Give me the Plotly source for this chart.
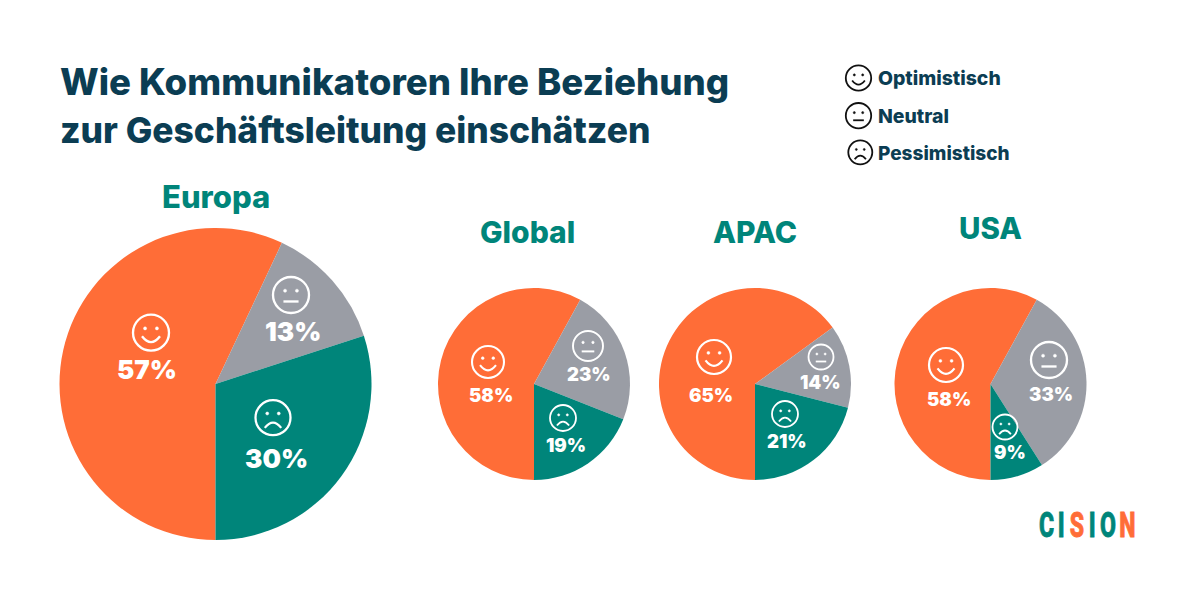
import plotly.graph_objects as go

W, H = 1200, 600
NAVY = "#0b3d53"
TEAL = "#00857a"
ORANGE = "#ff6d37"
GRAY = "#9a9da5"
FONT = "Inter"

moods = ["Optimistisch", "Neutral", "Pessimistisch"]
regions = ["Europa", "Global", "APAC", "USA"]
europa = [57, 13, 30]
global_ = [58, 23, 19]
apac = [65, 14, 21]
usa = [58, 33, 9]
series = [europa, global_, apac, usa]
title_lines = ["Wie Kommunikatoren Ihre Beziehung", "zur Geschäftsleitung einschätzen"]

# layout (pixels)
pies = [(215.5, 384, 156), (534, 384, 96), (755, 384, 96), (990.5, 384, 96)]
heads = [(215.5, 196, 31), (527.5, 232, 30), (755, 232, 30), (990, 228, 29.5)]
label_pos = [
    [(147, 369, 26), (293, 331, 26), (276, 458, 26)],
    [(491, 395, 18.5), (588.5, 374, 18.5), (566, 445, 18.5)],
    [(711, 395, 18.5), (820, 382, 18.5), (787, 441, 18.5)],
    [(949, 399, 18.5), (1051, 394, 18.5), (1010, 452, 18.5)],
]
icon_pos = [
    [(151, 332.7, 18), (291, 295, 18), (273, 417.7, 17.5)],
    [(488, 362, 16), (588, 346, 15), (563, 418, 13)],
    [(714, 357, 17), (821, 357, 12.5), (785, 414, 13)],
    [(946, 365, 17), (1049, 360, 18), (1005, 427, 12.5)],
]
legend_icons = [(858.5, 78, 12.7), (858.5, 115.7, 12.7), (860.3, 152.3, 12)]
legend_text = [(876, 78, 19.4), (876, 116, 19.4), (876, 153, 19)]


def px(x):
    return x / W


def py(y):
    return 1 - y / H


def p2(x, y):
    return f"{px(x):.5f} {py(y):.5f}"


def icon_shapes(cx, cy, r, kind, color):
    lw = max(1.8, r * 0.13)
    base = dict(xref="paper", yref="paper", line=dict(color=color, width=lw))
    out = [dict(type="circle", x0=px(cx - r), x1=px(cx + r), y0=py(cy + r), y1=py(cy - r), **base)]
    er = r * 0.085
    for sx in (-0.33, 0.33):
        ex, ey = cx + sx * r, cy - 0.24 * r
        out.append(dict(type="circle", xref="paper", yref="paper",
                        x0=px(ex - er), x1=px(ex + er), y0=py(ey + er), y1=py(ey - er),
                        fillcolor=color, line=dict(color=color, width=0.5)))
    if kind == 0:
        path = f"M {p2(cx - 0.5 * r, cy + 0.2 * r)} Q {p2(cx, cy + 0.85 * r)} {p2(cx + 0.5 * r, cy + 0.2 * r)}"
    elif kind == 1:
        path = f"M {p2(cx - 0.42 * r, cy + 0.36 * r)} L {p2(cx + 0.42 * r, cy + 0.36 * r)}"
    else:
        path = f"M {p2(cx - 0.47 * r, cy + 0.58 * r)} Q {p2(cx, cy - 0.02 * r)} {p2(cx + 0.47 * r, cy + 0.58 * r)}"
    out.append(dict(type="path", path=path, **base))
    return out


def text(x, y, s, size, color, anchor="center", weight=800, family=FONT):
    return dict(x=px(x), y=py(y), xref="paper", yref="paper", text=s, showarrow=False,
                xanchor=anchor, yanchor="middle",
                font=dict(family=family, size=size, color=color, weight=weight))


fig = go.Figure()
for (cx, cy, r), vals, name in zip(pies, series, regions):
    fig.add_trace(go.Pie(
        labels=moods, values=vals, name=name, sort=False, direction="clockwise", rotation=180,
        marker=dict(colors=[ORANGE, GRAY, TEAL], line=dict(width=0)),
        textinfo="none", hoverinfo="label+percent", showlegend=False,
        domain=dict(x=[px(cx - r), px(cx + r)], y=[py(cy + r), py(cy - r)]),
    ))

ann, shapes = [], []
ann.append(text(57.5, 82, title_lines[0], 36.6, NAVY, "left"))
ann.append(text(57.5, 130, title_lines[1], 35.4, NAVY, "left"))
for name, (x, y, s) in zip(regions, heads):
    ann.append(text(x, y, name, s, TEAL))
for vals, lps, ips in zip(series, label_pos, icon_pos):
    for k, (v, (x, y, s), (ix, iy, ir)) in enumerate(zip(vals, lps, ips)):
        ann.append(text(x, y, f"{v}%", s, "white", weight=900))
        shapes += icon_shapes(ix, iy, ir, k, "white")
for k, (name, (ix, iy, ir), (tx, ty, ts)) in enumerate(zip(moods, legend_icons, legend_text)):
    shapes += icon_shapes(ix, iy, ir, k, "#111111")
    ann.append(text(tx, ty, name, ts, NAVY, "left"))

# logo: one text item per letter, narrowed in the page below
logo_letters = ["C", "I", "S", "I", "O", "N"]
logo_x = [1046.5, 1060.5, 1076.5, 1091.5, 1107.5, 1127.5]
logo_colors = [TEAL, TEAL, ORANGE, TEAL, TEAL, ORANGE]
logo_start = len(ann)
for ch, x, c in zip(logo_letters, logo_x, logo_colors):
    ann.append(text(x, 525, ch, 35, c, weight=800, family="Roboto"))

fig.update_layout(width=W, height=H, autosize=False, paper_bgcolor="white",
                  margin=dict(l=0, r=0, t=0, b=0), annotations=ann, shapes=shapes)

post = """
document.body.style.margin = '0';
document.documentElement.style.overflow = 'hidden';
var gd = document.getElementById('{plot_id}');
function narrowLogo() {
  var items = gd.querySelectorAll('.annotation');
  for (var i = %d; i < items.length; i++) {
    var t = items[i].querySelector('text');
    if (t) {
      t.style.transformBox = 'fill-box';
      t.style.transformOrigin = 'center';
      t.style.transform = 'scaleX(0.66)';
      t.style.stroke = t.style.fill;
      t.style.strokeWidth = '0.9px';
    }
  }
}
narrowLogo();
gd.on('plotly_afterplot', narrowLogo);
""" % logo_start
fig.write_html("out.html", post_script=post, config={"displayModeBar": False})
